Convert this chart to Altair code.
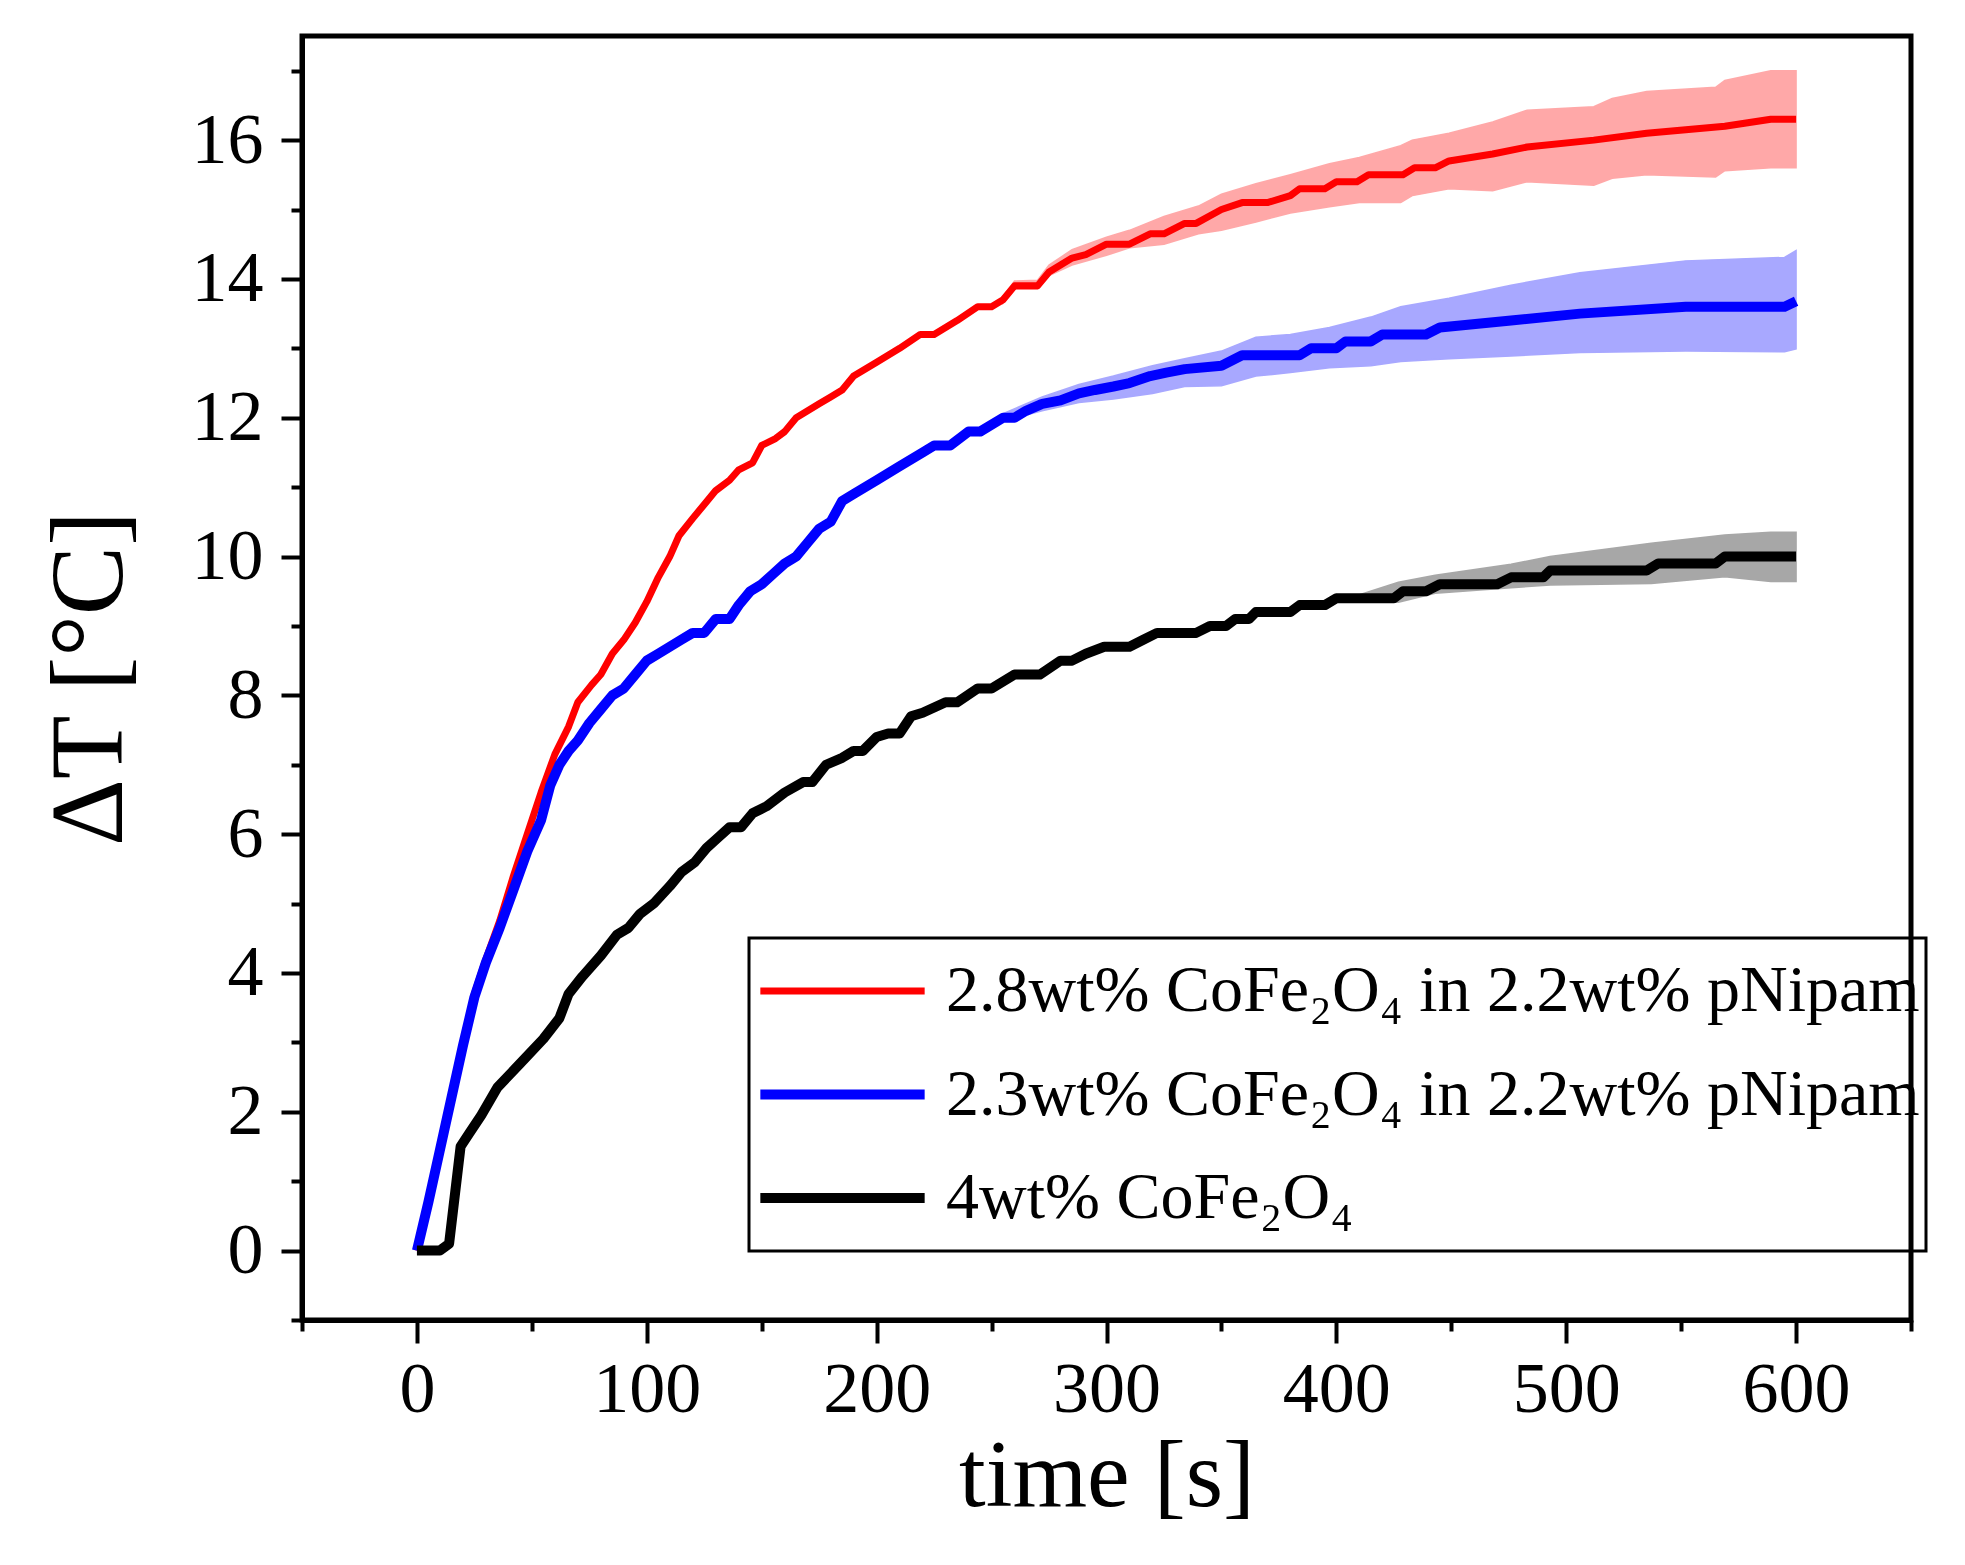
import altair as alt
import pandas as pd

SERIES = [
    "2.8wt% CoFe₂O₄ in 2.2wt% pNipam",
    "2.3wt% CoFe₂O₄ in 2.2wt% pNipam",
    "4wt% CoFe₂O₄",
]
COLORS = ["#ff0000", "#0000ff", "#000000"]
BAND_COLORS = ["#ff7070", "#6f6fff", "#6e6e6e"]
WIDTHS = [7, 10, 10]

# mean curves (time [s], dT [C])
red_t = [0, 5, 10, 15, 20, 25, 30, 36, 42, 48, 54, 60, 66, 70, 76, 80, 85, 90, 95, 100,
         105, 110, 114, 120, 125, 130, 136, 140, 146, 150, 156, 160, 165, 170, 175, 180,
         185, 190, 200, 210, 219, 225, 235, 244, 250, 255, 260, 270, 275, 285, 291, 300,
         310, 319, 325, 334, 339, 350, 359, 370, 380, 384, 395, 400, 409, 414, 429, 434,
         443, 449, 468, 483, 512, 535, 569, 589, 600]
red_v = [0, 0.7, 1.45, 2.2, 2.95, 3.7, 4.2, 4.75, 5.4, 6.0, 6.6, 7.15, 7.55, 7.9, 8.15, 8.3,
         8.6, 8.8, 9.05, 9.35, 9.7, 10.0, 10.3, 10.55, 10.75, 10.95, 11.1, 11.25, 11.35,
         11.6, 11.7, 11.8, 12.0, 12.1, 12.2, 12.3, 12.4, 12.6, 12.8, 13.0, 13.2, 13.2, 13.4,
         13.6, 13.6, 13.7, 13.9, 13.9, 14.1, 14.3, 14.35, 14.5, 14.5, 14.65, 14.65, 14.8,
         14.8, 15.0, 15.1, 15.1, 15.2, 15.3, 15.3, 15.4, 15.4, 15.5, 15.5, 15.6, 15.6, 15.7,
         15.8, 15.9, 16.0, 16.1, 16.2, 16.3, 16.3]

blue_t = [0, 5, 10, 15, 20, 25, 30, 36, 42, 48, 54, 58, 62, 66, 70, 75, 80, 85, 90, 95, 100,
          105, 110, 115, 120, 125, 130, 136, 140, 145, 150, 155, 160, 165, 170, 175, 180,
          185, 190, 200, 210, 220, 225, 232, 240, 245, 255, 260, 265, 272, 280, 288, 295,
          303, 310, 319, 326, 334, 350, 359, 384, 389, 400, 404, 415, 420, 439, 445, 476,
          506, 552, 595, 600]
blue_v = [0, 0.7, 1.45, 2.2, 2.95, 3.65, 4.15, 4.65, 5.2, 5.75, 6.2, 6.7, 7.0, 7.2, 7.35,
          7.6, 7.8, 8.0, 8.1, 8.3, 8.5, 8.6, 8.7, 8.8, 8.9, 8.9, 9.1, 9.1, 9.3, 9.5, 9.6,
          9.75, 9.9, 10.0, 10.2, 10.4, 10.5, 10.8, 10.9, 11.1, 11.3, 11.5, 11.6, 11.6, 11.8,
          11.8, 12.0, 12.0, 12.1, 12.2, 12.25, 12.35, 12.4, 12.45, 12.5, 12.6, 12.65, 12.7,
          12.75, 12.9, 12.9, 13.0, 13.0, 13.1, 13.1, 13.2, 13.2, 13.3, 13.4, 13.5, 13.6,
          13.6, 13.68]

black_t = [0, 10, 14, 19, 23, 28, 35, 45, 55, 62, 66, 72, 80, 87, 92, 97, 103, 110, 115, 121,
           126, 131, 136, 141, 146, 152, 160, 168, 172, 178, 185, 190, 194, 200, 205, 210,
           215, 220, 230, 235, 244, 250, 260, 271, 280, 285, 291, 299, 310, 316, 322, 339,
           345, 352, 356, 362, 365, 380, 384, 395, 400, 425, 429, 439, 445, 470, 476, 490,
           493, 535, 540, 565, 569, 600]
black_v = [0, 0, 0.1, 1.5, 1.7, 1.95, 2.35, 2.7, 3.05, 3.35, 3.7, 3.95, 4.25, 4.55, 4.65,
           4.85, 5.0, 5.25, 5.45, 5.6, 5.8, 5.95, 6.1, 6.1, 6.3, 6.4, 6.6, 6.75, 6.75, 7.0,
           7.1, 7.2, 7.2, 7.4, 7.45, 7.45, 7.7, 7.75, 7.9, 7.9, 8.1, 8.1, 8.3, 8.3, 8.5, 8.5,
           8.6, 8.7, 8.7, 8.8, 8.9, 8.9, 9.0, 9.0, 9.1, 9.1, 9.2, 9.2, 9.3, 9.3, 9.4, 9.4,
           9.5, 9.5, 9.6, 9.6, 9.7, 9.7, 9.8, 9.8, 9.9, 9.9, 10.0, 10.0]

# error bands (time, lower, upper)
red_band_t = [255, 260, 270, 275, 285, 300, 310, 325, 340, 350, 365, 380, 397, 410, 428,
              433, 449, 468, 483, 512, 520, 535, 565, 569, 589, 600]
red_band_lo = [13.65, 13.85, 13.85, 14.05, 14.2, 14.34, 14.45, 14.5, 14.65, 14.7, 14.82,
               14.95, 15.04, 15.1, 15.1, 15.2, 15.3, 15.27, 15.4, 15.35, 15.45, 15.5, 15.47,
               15.56, 15.6, 15.6]
red_band_hi = [13.75, 13.97, 13.98, 14.2, 14.42, 14.6, 14.7, 14.9, 15.05, 15.22, 15.37,
               15.5, 15.66, 15.75, 15.92, 16.0, 16.1, 16.26, 16.43, 16.48, 16.6, 16.7, 16.76,
               16.86, 17.0, 17.0]

blue_band_t = [245, 255, 272, 288, 303, 320, 334, 350, 365, 380, 397, 415, 428, 449, 476,
               506, 552, 595, 600]
blue_band_lo = [11.75, 11.95, 12.1, 12.22, 12.27, 12.35, 12.45, 12.46, 12.6, 12.65, 12.72,
                12.75, 12.81, 12.85, 12.89, 12.94, 12.96, 12.95, 12.99]
blue_band_hi = [11.85, 12.06, 12.3, 12.48, 12.6, 12.75, 12.85, 12.96, 13.16, 13.2, 13.3,
                13.45, 13.6, 13.72, 13.91, 14.09, 14.26, 14.31, 14.41]

black_band_t = [410, 427, 443, 476, 493, 537, 569, 589, 600]
black_band_lo = [9.35, 9.34, 9.47, 9.55, 9.59, 9.61, 9.71, 9.64, 9.64]
black_band_hi = [9.45, 9.63, 9.73, 9.89, 10.0, 10.19, 10.31, 10.35, 10.35]

x_major = [0, 100, 200, 300, 400, 500, 600]
x_minor = [-50, 50, 150, 250, 350, 450, 550, 650]
y_major = [0, 2, 4, 6, 8, 10, 12, 14, 16]
y_minor = [-1, 1, 3, 5, 7, 9, 11, 13, 15, 17]

FONT = "Liberation Serif"

lines = pd.concat([
    pd.DataFrame({"t": red_t, "v": red_v, "series": SERIES[0], "ord": 0}),
    pd.DataFrame({"t": blue_t, "v": blue_v, "series": SERIES[1], "ord": 1}),
    pd.DataFrame({"t": black_t, "v": black_v, "series": SERIES[2], "ord": 2}),
], ignore_index=True)

bands = [
    pd.DataFrame({"t": red_band_t, "lo": red_band_lo, "hi": red_band_hi}),
    pd.DataFrame({"t": blue_band_t, "lo": blue_band_lo, "hi": blue_band_hi}),
    pd.DataFrame({"t": black_band_t, "lo": black_band_lo, "hi": black_band_hi}),
]

xs = alt.Scale(domain=[-50, 650], nice=False, zero=False)
ys = alt.Scale(domain=[-1, 17.5], nice=False, zero=False)

major_x = alt.Axis(values=x_major, orient="bottom", title="time [s]", tickSize=23,
                   tickWidth=4, labelPadding=11, titlePadding=4, titleFontSize=96)
major_y = alt.Axis(values=y_major, orient="left", title="ΔT [°C]", tickSize=21,
                   tickWidth=4, labelPadding=18, titlePadding=48, titleFontSize=104)
minor_x = alt.Axis(values=x_minor, orient="bottom", title=None, tickSize=11, tickWidth=4,
                   labels=False, domain=False)
minor_y = alt.Axis(values=y_minor, orient="left", title=None, tickSize=11, tickWidth=4,
                   labels=False, domain=False)

layers = []
for i, b in enumerate(bands):
    layers.append(
        alt.Chart(b).mark_area(color=BAND_COLORS[i], opacity=0.6, stroke=BAND_COLORS[i],
                               strokeWidth=1.5)
        .encode(x=alt.X("t:Q", scale=xs, axis=major_x if i == 0 else None),
                y=alt.Y("lo:Q", scale=ys, axis=major_y if i == 0 else None),
                y2="hi:Q")
    )

legend = alt.Legend(orient="none", legendX=447, legendY=902, title=None,
                    symbolType="stroke", symbolSize=27000, labelFontSize=66,
                    labelFont=FONT, labelLimit=3000, labelOffset=16, padding=6,
                    clipHeight=94, rowPadding=9.5, strokeColor="black")

line_layer = alt.Chart(lines).mark_line(strokeJoin="round").encode(
    x=alt.X("t:Q", scale=xs, axis=None),
    y=alt.Y("v:Q", scale=ys, axis=None),
    color=alt.Color("series:N", scale=alt.Scale(domain=SERIES, range=COLORS), legend=legend),
    strokeWidth=alt.StrokeWidth("series:N",
                                scale=alt.Scale(type="ordinal", domain=SERIES, range=WIDTHS),
                                legend=legend),
    order="ord:Q",
)
layers.append(line_layer)

minor_layer = alt.Chart(lines).mark_line(opacity=0).encode(
    x=alt.X("t:Q", scale=xs, axis=minor_x),
    y=alt.Y("v:Q", scale=ys, axis=minor_y),
    detail="series:N",
)
layers.append(minor_layer)

chart = (
    alt.layer(*layers)
    .resolve_axis(x="independent", y="independent")
    .properties(width=1609, height=1284,
                autosize=alt.AutoSizeParams(type="none"),
                padding={"left": 294, "top": 28, "right": 46, "bottom": 237})
    .configure_view(stroke="black", strokeWidth=5)
    .configure_axis(grid=False, labelFont=FONT, titleFont=FONT, labelFontSize=72,
                    titleFontSize=92, titleFontWeight="normal", labelColor="black",
                    titleColor="black", tickColor="black", domainColor="black",
                    domainWidth=5, labelFlush=False)
    .configure_legend(strokeWidth=3)
)

chart.save("out.html", embed_options={"renderer": "svg", "actions": False})
